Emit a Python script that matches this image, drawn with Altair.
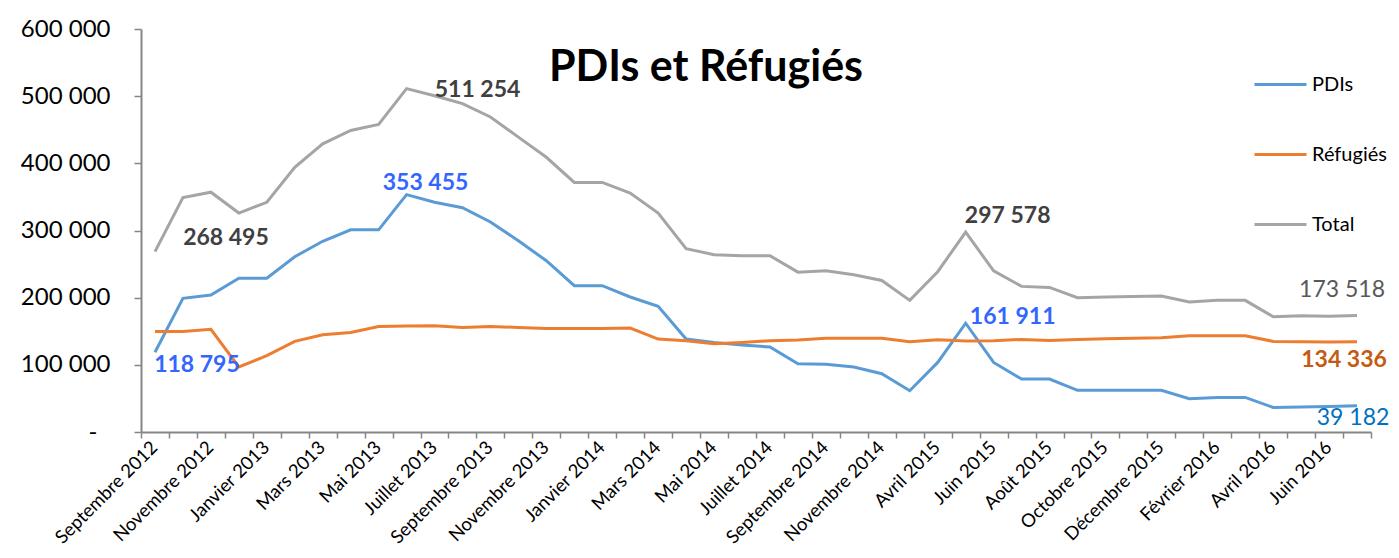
import altair as alt
import pandas as pd

categories = [
    "Septembre 2012", "Octobre 2012", "Novembre 2012", "Décembre 2012",
    "Janvier 2013", "Février 2013", "Mars 2013", "Avril 2013", "Mai 2013",
    "Juin 2013", "Juillet 2013", "Août 2013", "Septembre 2013", "Octobre 2013",
    "Novembre 2013", "Décembre 2013", "Janvier 2014", "Février 2014",
    "Mars 2014", "Avril 2014", "Mai 2014", "Juin 2014", "Juillet 2014",
    "Août 2014", "Septembre 2014", "Octobre 2014", "Novembre 2014",
    "Février 2015", "Avril 2015", "Mai 2015", "Juin 2015", "Juillet 2015",
    "Août 2015", "Septembre 2015", "Octobre 2015", "Novembre 2015",
    "Décembre 2015", "Janvier 2016", "Février 2016", "Mars 2016",
    "Avril 2016", "Mai 2016", "Juin 2016", "Juillet 2016",
]

shown_labels = [
    "Septembre 2012", "Novembre 2012", "Janvier 2013", "Mars 2013", "Mai 2013",
    "Juillet 2013", "Septembre 2013", "Novembre 2013", "Janvier 2014",
    "Mars 2014", "Mai 2014", "Juillet 2014", "Septembre 2014",
    "Novembre 2014", "Avril 2015", "Juin 2015", "Août 2015", "Octobre 2015",
    "Décembre 2015", "Février 2016", "Avril 2016", "Juin 2016",
]

pdis = [
    118795, 199000, 204000, 229000, 229000, 261000, 284000, 301000, 301000,
    353455, 342000, 334000, 312600, 284800, 255000, 217800, 217800, 201000,
    187000, 138400, 133400, 129500, 126500, 101700, 100700, 96800, 86800,
    61500, 103600, 161911, 103600, 78900, 78900, 62000, 62000, 62000, 62000,
    49600, 51500, 51500, 36600, 37100, 38100, 39182,
]

refugies = [
    149800, 149800, 153000, 96800, 113600, 134900, 144900, 148300, 157000,
    157800, 158300, 155700, 157000, 155700, 154000, 154000, 154000, 154800,
    138400, 136000, 131400, 133400, 136000, 137000, 139400, 139400, 139400,
    134400, 137400, 135667, 136000, 137900, 136400, 137900, 138900, 139400,
    140400, 143400, 143400, 143400, 134900, 134400, 134000, 134336,
]

total = [
    268495, 349000, 357000, 326000, 342000, 394000, 429000, 449000, 458000,
    511254, 500700, 489000, 469000, 439000, 409000, 371600, 371600, 355800,
    326000, 272900, 264000, 262500, 262500, 238000, 240000, 234000, 225700,
    196000, 238700, 297578, 240000, 216800, 215300, 200000, 201000, 201900,
    202500, 193500, 196000, 196000, 171700, 173200, 172200, 173518,
]

series_names = ["PDIs", "Réfugiés", "Total"]
series_colors = ["#5B9BD5", "#ED7D31", "#A5A5A5"]
y_ticks = [0, 100000, 200000, 300000, 400000, 500000, 600000]

label_series = ["Total", "PDIs", "Total", "PDIs", "Total", "PDIs", "Total", "Réfugiés", "PDIs"]
label_index = [0, 0, 9, 9, 29, 29, 43, 43, 43]
label_text = ["268 495", "118 795", "511 254", "353 455", "297 578", "161 911",
              "173 518", "134 336", "39 182"]

chart_title = "PDIs et Réfugiés"

FONT = "Lato"

rows = []
for name, vals in zip(series_names, [pdis, refugies, total]):
    for c, v in zip(categories, vals):
        rows.append({"cat": c, "value": v, "series": name})
df = pd.DataFrame(rows)

series_lookup = dict(zip(series_names, [pdis, refugies, total]))

shown_js = "[" + ",".join("'" + s + "'" for s in shown_labels) + "]"

x_enc = alt.X(
    "cat:N",
    sort=categories,
    scale=alt.Scale(type="band", domain=categories, paddingInner=0, paddingOuter=0),
    axis=alt.Axis(
        title=None,
        labelAngle=-45,
        labelAlign="right",
        labelBaseline="middle",
        labelFont=FONT,
        labelFontSize=18.5,
        labelColor="#000000",
        labelExpr="indexof(" + shown_js + ", datum.value) >= 0 ? datum.label : ''",
        labelOverlap=False,
        labelBound=False,
        labelFlush=False,
        labelPadding=6,
        labelOffset=-1,
        tickBand="extent",
        tickSize=6,
        tickColor="#868686",
        tickWidth=1.5,
        domainColor="#868686",
        domainWidth=2,
    ),
)

y_enc = alt.Y(
    "value:Q",
    scale=alt.Scale(domain=[0, 600000], nice=False),
    axis=alt.Axis(
        title=None,
        values=y_ticks,
        grid=False,
        labelExpr="datum.value == 0 ? '-' : format(datum.value / 1000, 'd') + ' 000'",
        labelFont=FONT,
        labelFontSize=24,
        labelColor="#000000",
        labelPadding={"condition": {"test": "datum.value == 0", "value": 37}, "value": 24},
        tickSize=7,
        tickColor="#868686",
        tickWidth=1.5,
        domainColor="#868686",
        domainWidth=2,
    ),
)

lines = alt.Chart(df).mark_line(strokeWidth=3).encode(
    x=x_enc,
    y=y_enc,
    color=alt.Color(
        "series:N",
        scale=alt.Scale(domain=series_names, range=series_colors),
        legend=alt.Legend(
            title=None,
            orient="none",
            legendX=1112,
            legendY=28,
            symbolType="stroke",
            symbolSize=2704,
            symbolStrokeWidth=3,
            labelFont=FONT,
            labelFontSize=20,
            labelColor="#000000",
            labelOffset=4,
            rowPadding=32,
            padding=0,
        ),
    ),
)

styles = {
    0: dict(color="#404040", fontWeight="bold", dx=71, dy=-14),
    1: dict(color="#3366FF", fontWeight="bold", dx=42, dy=13),
    2: dict(color="#404040", fontWeight="bold", dx=71, dy=1),
    3: dict(color="#3366FF", fontWeight="bold", dx=19, dy=-12),
    4: dict(color="#404040", fontWeight="bold", dx=42, dy=-16),
    5: dict(color="#3366FF", fontWeight="bold", dx=47, dy=-6),
    6: dict(color="#595959", fontWeight="normal", dx=-15, dy=-25),
    7: dict(color="#C55A11", fontWeight="bold", dx=-13, dy=18),
    8: dict(color="#0070C0", fontWeight="normal", dx=-4, dy=12),
}

layers = [lines]
for i, (s, idx, txt) in enumerate(zip(label_series, label_index, label_text)):
    ldf = pd.DataFrame([{"cat": categories[idx], "value": series_lookup[s][idx], "txt": txt}])
    st = styles[i]
    layers.append(
        alt.Chart(ldf).mark_text(
            font=FONT, fontSize=23, align="center", baseline="middle", **st
        ).encode(x=alt.X("cat:N", sort=categories), y=alt.Y("value:Q"), text="txt:N")
    )

title_layer = alt.Chart(pd.DataFrame({"t": [chart_title]})).mark_text(
    font=FONT, fontSize=43, fontWeight="bold", color="#000000",
    align="center", baseline="alphabetic",
).encode(x=alt.value(565), y=alt.value(52), text="t:N")
layers.append(title_layer)

chart = alt.layer(*layers).properties(
    width=1230,
    height=403,
    autosize=alt.AutoSizeParams(type="none"),
    padding={"left": 133, "top": 21, "right": 20, "bottom": 118},
).configure_view(stroke=None)

chart.save("out.html", embed_options={"renderer": "svg", "actions": False})
